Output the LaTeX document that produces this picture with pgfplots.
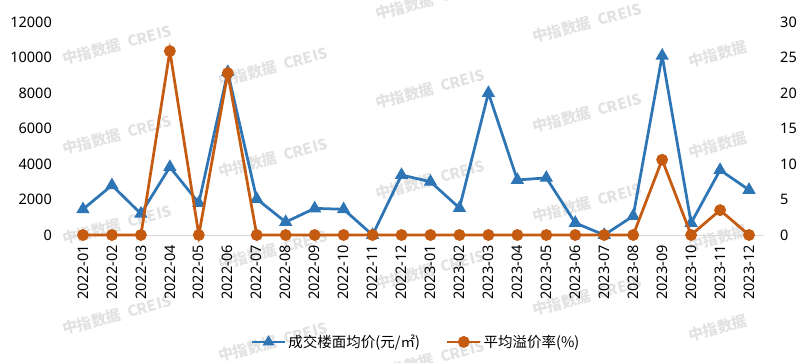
\documentclass[border=0pt]{standalone}
\usepackage{fontspec}
\setmainfont{Noto Sans}
\newfontfamily\cjk{Noto Sans CJK SC}
\usepackage{pgfplots}
\pgfplotsset{compat=1.18}
\definecolor{cblue}{RGB}{46,117,182}
\definecolor{corange}{RGB}{197,90,17}
\definecolor{wm}{RGB}{226,226,226}
\definecolor{zl}{RGB}{217,217,217}

\begin{document}
\begin{tikzpicture}[x=1bp,y=1bp]
% watermarks
\foreach \X/\Y in {117/45,117/135,117/225,117/315,273/67,273/158,273/250,273/342,430/0,430/89,430/180,430/270,430/360,587/23,587/113,587/203,587/296}
  \node[rotate=15, text=wm, font=\cjk\bfseries\fontsize{15bp}{18bp}\selectfont] at ({\X-68.5},{235-\Y}) {中指数据\ \ CREIS};
\foreach \X/\Y in {718/54,718/145,718/238,718/328}
  \node[rotate=15, text=wm, font=\cjk\bfseries\fontsize{15bp}{18bp}\selectfont] at ({\X-68.5},{235-\Y}) {中指数据};

\begin{axis}[
  scale only axis, width=695bp, height=213bp,
  xmin=-0.5, xmax=23.5, ymin=0, ymax=12000,
  axis line style={draw=none},
  major tick length=0pt,
  xtick={0,...,23},
  xticklabels={2022-01,2022-02,2022-03,2022-04,2022-05,2022-06,2022-07,2022-08,2022-09,2022-10,2022-11,2022-12,2023-01,2023-02,2023-03,2023-04,2023-05,2023-06,2023-07,2023-08,2023-09,2023-10,2023-11,2023-12},
  xticklabel style={rotate=90, anchor=east, inner xsep=10bp},
  ytick={0,2000,...,12000},
  scaled y ticks=false,
  yticklabel style={inner xsep=0pt, xshift=-16.5bp},
  /pgf/number format/assume math mode=true,
  /pgf/number format/1000 sep={},
  /pgf/number format/fixed,
  tick label style={font=\fontsize{14.5bp}{17bp}\selectfont},
  clip=false,
]
\draw[zl, line width=1bp] (axis cs:-0.5,0) -- (axis cs:23.5,0);
\addplot[cblue, line width=2.75bp, mark=triangle*, mark size=5bp, mark options={solid}] coordinates {
(0,1450) (1,2800) (2,1200) (3,3830) (4,1800) (5,9180) (6,2030) (7,730) (8,1500) (9,1450) (10,0) (11,3380)
(12,3000) (13,1520) (14,8000) (15,3100) (16,3220) (17,680) (18,0) (19,1070) (20,10100) (21,680) (22,3660) (23,2540)
};
\end{axis}

\begin{axis}[
  scale only axis, width=695bp, height=213bp,
  xmin=-0.5, xmax=23.5, ymin=0, ymax=30,
  axis x line=none, axis y line*=right,
  axis line style={draw=none},
  xtick=\empty,
  major tick length=0pt,
  ytick={0,5,...,30},
  yticklabel style={inner xsep=0pt, xshift=16.5bp},
  /pgf/number format/assume math mode=true,
  tick label style={font=\fontsize{14.5bp}{17bp}\selectfont},
  clip=false,
  legend columns=2,
  legend style={at={(0.5,-0.502)}, anchor=center, draw=none, fill=none,
    font=\fontsize{14.5bp}{17bp}\selectfont,
    nodes={inner sep=2bp},
    /tikz/every even column/.append style={column sep=24bp}},
  legend image code/.code={\draw[mark repeat=2, mark phase=2, #1] plot coordinates {(0bp,0bp) (16.5bp,0bp) (33bp,0bp)};},
]
\addlegendimage{cblue, line width=2.75bp, mark=triangle*, mark size=4bp, mark options={solid}}
\addlegendentry{\cjk 成交楼面均价(元/㎡)}
\addplot[corange, line width=2.75bp, mark=*, mark size=4.5bp, mark options={solid}] coordinates {
(0,0) (1,0) (2,0) (3,25.9) (4,0) (5,22.8) (6,0) (7,0) (8,0) (9,0) (10,0) (11,0)
(12,0) (13,0) (14,0) (15,0) (16,0) (17,0) (18,0) (19,0) (20,10.6) (21,0) (22,3.5) (23,0)
};
\addlegendentry{\cjk 平均溢价率(\%)}
\end{axis}
\pgfresetboundingbox
\path[use as bounding box] (-68.5,-127) rectangle (740.5,235);
\end{tikzpicture}
\end{document}
